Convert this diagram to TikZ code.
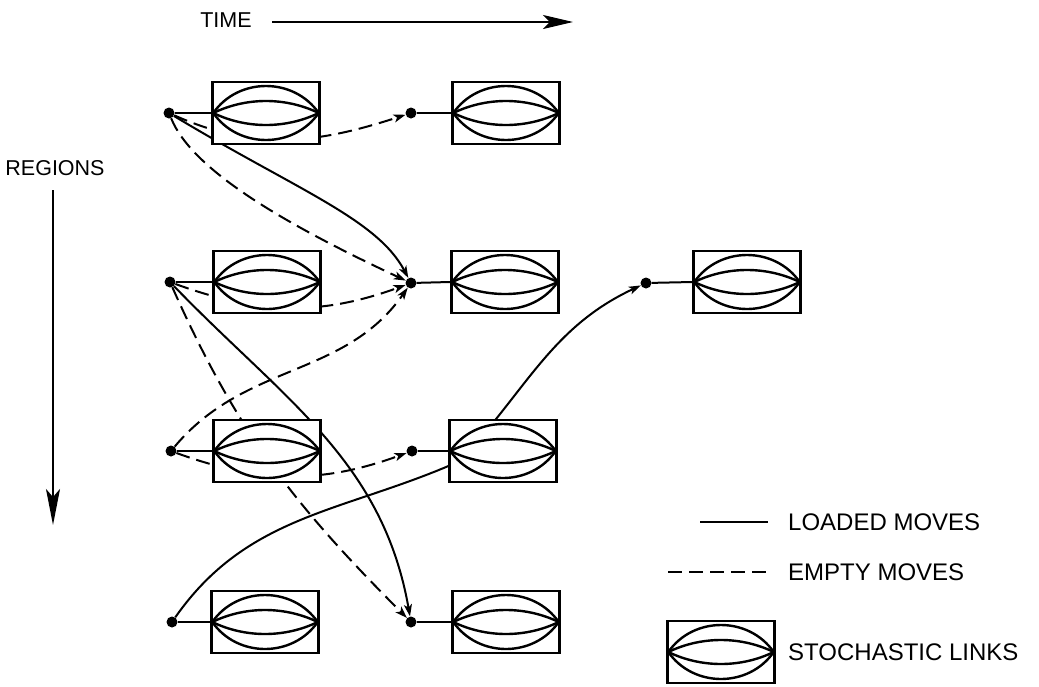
\documentclass[tikz,border=0pt]{standalone}
\usepackage{fontspec}
\setmainfont{Liberation Sans}
\usetikzlibrary{arrows.meta,backgrounds}
\newcommand{\lensbox}[3]{%
  \node[lbox] (#1) at (#2,#3) {};
  \draw[lensline] ([xshift=2pt]#1.west) .. controls +(25,36) and +(-25,36) .. ([xshift=-2pt]#1.east);
  \draw[lensline] ([xshift=2pt]#1.west) .. controls +(25,-36) and +(-25,-36) .. ([xshift=-2pt]#1.east);
  \draw[lensline] ([xshift=2pt]#1.west) .. controls +(33,16) and +(-33,16) .. ([xshift=-2pt]#1.east);
  \draw[lensline] ([xshift=2pt]#1.west) .. controls +(33,-16) and +(-33,-16) .. ([xshift=-2pt]#1.east);
}
\begin{document}
\begin{tikzpicture}[x=1pt,y=1pt,
  dot/.style={circle,fill=black,inner sep=0pt,minimum size=11pt},
  lbox/.style={draw,line width=2.4pt,fill=white,minimum width=107pt,minimum height=62pt,inner sep=0pt},
  lensline/.style={line width=2.4pt},
  link/.style={line width=2pt},
  loaded/.style={line width=2pt,-{Stealth[length=12pt,width=8pt,inset=3pt]}},
  empty/.style={loaded,dash pattern=on 14pt off 7pt},
  axisarrow/.style={line width=2pt,-{Stealth[length=30pt,width=14pt,inset=7pt]}},
  lbl/.style={inner sep=0pt,font=\fontsize{21.5}{24}\selectfont},
  leg/.style={inner sep=0pt,anchor=west,font=\fontsize{24}{28}\selectfont}]
\useasboundingbox (0,-686) rectangle (1039,0);

% axes
\node[lbl] (time) at (226,-20) {TIME};
\coordinate (ts) at (272,-22);
\coordinate (te) at (573,-22);
\draw[axisarrow] (ts) -- (te);
\node[lbl] (reg) at (55,-168) {REGIONS};
\coordinate (rs) at (53,-190);
\coordinate (re) at (53,-525);
\draw[axisarrow,-{Stealth[length=36pt,width=14pt,inset=8pt]}] (rs) -- (re);

% boxes
\lensbox{b11}{266}{-113}
\lensbox{b12}{506}{-113}
\lensbox{b21}{267}{-282}
\lensbox{b22}{505}{-282}
\lensbox{b23}{747}{-282}
\lensbox{b31}{267}{-451}
\lensbox{b32}{503}{-451}
\lensbox{b41}{265}{-622}
\lensbox{b42}{506}{-622}

% dots
\node[dot] (d11) at (169,-113) {};
\node[dot] (d12) at (411,-113) {};
\node[dot] (d21) at (170,-282) {};
\node[dot] (d22) at (411,-283) {};
\node[dot] (d23) at (646,-283) {};
\node[dot] (d31) at (171,-451) {};
\node[dot] (d32) at (412,-451) {};
\node[dot] (d41) at (172,-622) {};
\node[dot] (d42) at (411,-622) {};

% dot to box links
\foreach \r/\c in {1/1,1/2,2/1,2/2,2/3,3/1,3/2,4/1,4/2}
  \draw[link] (d\r\c) -- (b\r\c.west);

% moves, behind the boxes
\coordinate (w1) at (460,-461);
\begin{scope}[on background layer]
  \draw[empty] (d11) to[out=-24,in=198] (d12);
  \draw[loaded] (d11) to[out=-31,in=118,out looseness=1.3,in looseness=0.6] (d22);
  \draw[empty] (d11) to[out=-68,in=155,out looseness=0.5,in looseness=1.2] (d22);
  \draw[empty] (d21) to[out=-20,in=200] (d22);
  \draw[empty] (d31) to[out=50,in=-125] (d22);
  \draw[empty] (d21) to[out=-66,in=135] (d42);
  \draw[loaded] (d21) to[out=-46,in=100] (d42);
  \draw[empty] (d31) to[out=-20,in=200] (d32);
  \draw[loaded] (d41) to[out=55,in=204] (w1) to[out=47,in=205] (d23);
\end{scope}

% legend
\coordinate (l1s) at (700,-522);
\coordinate (l1e) at (768,-522);
\draw[link] (l1s) -- (l1e);
\node[leg] (t1) at (788,-522) {LOADED MOVES};
\coordinate (l2s) at (668,-572);
\coordinate (l2e) at (768,-572);
\draw[link,dash pattern=on 14pt off 7pt] (l2s) -- (l2e);
\node[leg] (t2) at (788,-572) {EMPTY MOVES};
\lensbox{lb}{721}{-652}
\node[leg] (t3) at (788,-652) {STOCHASTIC LINKS};
\end{tikzpicture}
\end{document}
